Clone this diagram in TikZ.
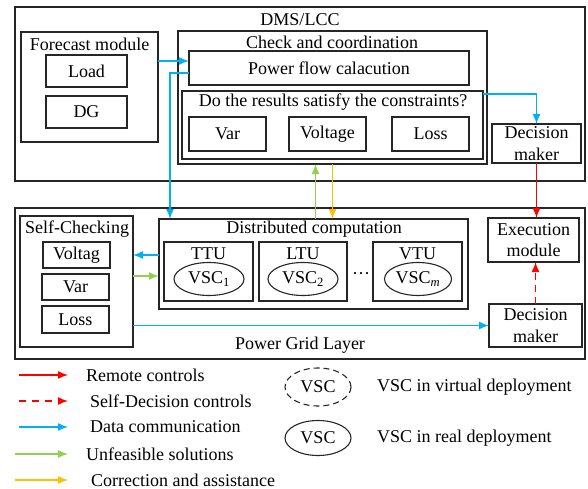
\documentclass[tikz,border=0pt]{standalone}
\usepackage{fontspec}
\setmainfont{Liberation Serif}
\usetikzlibrary{arrows.meta,calc,shapes.geometric}
\definecolor{cblue}{RGB}{0,176,240}
\definecolor{cgreen}{RGB}{146,208,80}
\definecolor{corange}{RGB}{255,192,0}
\definecolor{cred}{RGB}{255,0,0}
\newcommand\fs{\fontsize{18}{21.5}\selectfont}
% rectangle given by its corners: [opts]{x left}{y top}{x right}{y bottom}{name}{text}
\newcommand\rbox[7][]{\node[box,#1,minimum width={#4-#2},minimum height={#5-#3}] (#6) at ({(#2+#4)/2},{(#3+#5)/2}) {#7};}
\begin{document}
\begin{tikzpicture}[x=1pt,y=-1pt,
  every node/.append style={font=\fs},
  box/.style={draw=black!85, line width=1.2pt, inner sep=0pt, outer sep=0pt, align=center},
  vsc/.style={ellipse, draw=black!85, line width=1.1pt, inner sep=0pt, minimum width=70pt, minimum height=33pt},
  arr/.style={-{Latex[length=10pt,width=8pt]}, line width=1.4pt},
  lgtext/.style={anchor=west, inner sep=0pt}]
\useasboundingbox (0,0) rectangle (588,489);

% ---------- DMS/LCC layer ----------
\rbox{15}{7}{585}{181}{dms}{}
\node (dmsT) at (300,20) {DMS/LCC};
\rbox{21}{32}{158}{142}{fm}{}
\node (fmT) at (89.5,44) {Forecast module};
\rbox{46}{55}{127}{87}{load}{Load}
\rbox{46}{96}{127}{128}{dg}{DG}
\rbox{178}{31}{487}{164}{cc}{}
\node (ccT) at (332,42) {Check and coordination};
\rbox{189}{51}{469}{85}{pf}{Power flow calacution}
\rbox{182}{91}{483}{159}{cs}{}
\node (csT) at (333,102) {Do the results satisfy the constraints?};
\rbox{189}{117}{266}{151}{csvar}{Var}
\rbox{289}{117}{366}{151}{csvolt}{Voltage}
\rbox{392}{117}{469}{151}{csloss}{Loss}
\rbox{492}{124}{581}{163}{dmA}{Decision\\maker}

% ---------- Power grid layer ----------
\rbox{15}{208}{585}{359}{pgl}{}
\node (pglT) at (300,345) {Power Grid Layer};
\rbox{20}{216}{133}{347}{sc}{}
\node (scT) at (77,229) {Self-Checking};
\rbox{43}{242}{110}{268}{scvolt}{Voltag}
\rbox{42}{274}{109}{300}{scvar}{Var}
\rbox{42}{306}{109}{333}{scloss}{Loss}
\rbox{159}{219}{468}{309}{dc}{}
\node (dcT) at (314,229) {Distributed computation};
\rbox{164}{242}{253}{301}{ttu}{}
\rbox{259}{242}{347}{301}{ltu}{}
\rbox{373}{242}{462}{301}{vtu}{}
\node (ttuT) at (208.5,254) {TTU};
\node (ltuT) at (303,254) {LTU};
\node (vtuT) at (417.5,254) {VTU};
\node[vsc] (vsc1) at (209,279) {VSC\textsubscript{1}};
\node[vsc] (vsc2) at (303,279) {VSC\textsubscript{2}};
\node[vsc, minimum width=67pt] (vscm) at (418,279) {VSC\textsubscript{\textit{m}}};
\node (dots) at (361,276) {\textperiodcentered\textperiodcentered\textperiodcentered};
\rbox{488}{218}{579}{262}{em}{Execution\\module}
\rbox{489}{304}{582}{347}{dmB}{Decision\\maker}

% ---------- connectors ----------
\draw[cblue,arr] ([yshift=7pt]pf.west -| fm.east) -- ([yshift=7pt]pf.west);
\draw[cblue,arr] ([yshift=-5pt]pf.west) -| ([xshift=11pt]dc.north west);
\draw[cblue,arr] ([yshift=-3pt]cs.north east) -| (dmA.north);
\draw[cgreen,arr] ([xshift=-17pt]cc.south |- dc.north) -- ([xshift=-17pt]cc.south);
\draw[corange,arr] (cc.south) -- (cc.south |- dc.north);
\draw[cred,arr] (dmA.south) -- (dmA.south |- em.north);
\draw[cred,arr,dash pattern=on 7pt off 5pt] (dmB.north) -- (dmB.north |- em.south);
\draw[cblue,arr] ([yshift=9pt]dc.west) -- ([yshift=9pt]dc.west -| sc.east);
\draw[cgreen,arr] ([yshift=-12pt]dc.west -| sc.east) -- ([yshift=-12pt]dc.west);
\draw[cblue,arr] (dmB.west -| sc.east) -- (dmB.west);

% ---------- legend ----------
\coordinate (lrA) at (19,375);  \coordinate (lrB) at (68,375);
\coordinate (ldA) at (19,401);  \coordinate (ldB) at (68,401);
\coordinate (lbA) at (19,427);  \coordinate (lbB) at (68,427);
\coordinate (lgA) at (15,454);  \coordinate (lgB) at (68,454);
\coordinate (loA) at (15,480);  \coordinate (loB) at (68,480);
\draw[cred,arr] (lrA) -- (lrB);
\draw[cred,arr,dash pattern=on 7pt off 6pt] (ldA) -- (ldB);
\draw[cblue,arr] (lbA) -- (lbB);
\draw[cgreen,arr] (lgA) -- (lgB);
\draw[corange,arr] (loA) -- (loB);
\node[lgtext] (lrT) at (86,375) {Remote controls};
\node[lgtext] (ldT) at (90,401) {Self-Decision controls};
\node[lgtext] (lbT) at (90,427) {Data communication};
\node[lgtext] (lgT) at (86,454) {Unfeasible solutions};
\node[lgtext] (loT) at (91,480) {Correction and assistance};
\node[vsc, dash pattern=on 6pt off 4pt, minimum width=66pt, minimum height=38pt] (lvv) at (318,387) {VSC};
\node[vsc, minimum width=66pt, minimum height=35pt] (lvr) at (318,438) {VSC};
\node[lgtext] (lvvT) at (377,387) {VSC in virtual deployment};
\node[lgtext] (lvrT) at (377,438) {VSC in real deployment};
\end{tikzpicture}
\end{document}
